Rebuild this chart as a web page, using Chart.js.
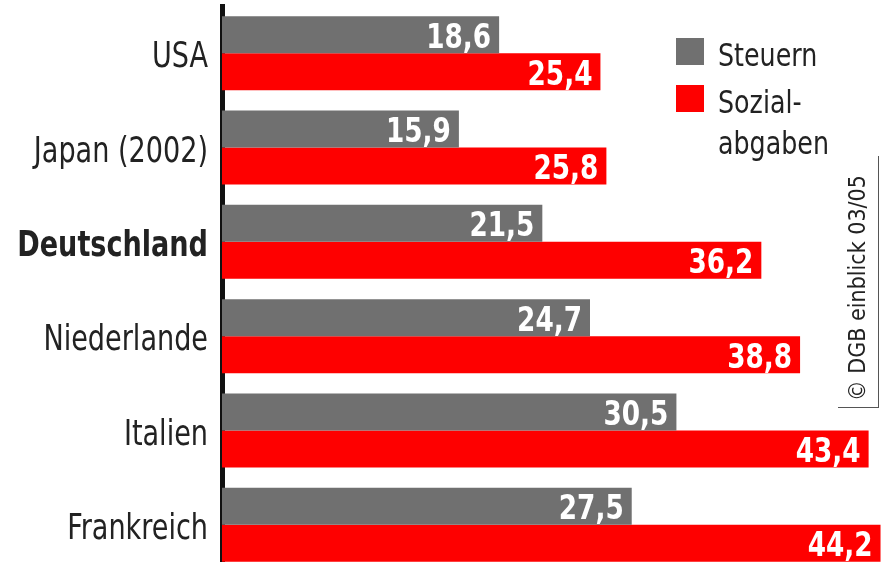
<!DOCTYPE html>
<html lang="de">
<head>
<meta charset="utf-8">
<title>Steuern und Sozialabgaben</title>
<script src="https://cdn.jsdelivr.net/npm/chart.js@4.4.1/dist/chart.umd.min.js"></script>
<style>
  html, body { margin: 0; padding: 0; background: #fff; overflow: hidden; }
  #wrap { position: relative; width: 885px; height: 562px; overflow: hidden; }
  canvas { position: absolute; left: 0; top: 0; }
  .lg { position: absolute; font-family: 'DejaVu Sans Condensed', sans-serif; font-size: 32px; color: #222;
        line-height: 1; white-space: nowrap; transform: scaleX(0.88); transform-origin: 0 0; }
  .sw { position: absolute; width: 28px; height: 27px; }
  #quelle { position: absolute; left: 857px; top: 288px; transform: translate(-50%, -50%) rotate(-90deg);
            font-family: 'DejaVu Sans Condensed', sans-serif; font-size: 23px; color: #222; white-space: nowrap; }
  #rahmen { position: absolute; left: 838px; top: 156px; width: 40px; height: 251px;
            border-right: 1.5px solid #555; border-bottom: 1.5px solid #555; }
</style>
</head>
<body>
<div id="wrap">
  <canvas id="chart" width="885" height="572"></canvas>
  <div class="sw" style="left:676px;top:38px;background:#707070"></div>
  <div class="lg" style="left:718px;top:39px">Steuern</div>
  <div class="sw" style="left:676px;top:85px;background:#fe0000"></div>
  <div class="lg" style="left:718px;top:86px">Sozial-</div>
  <div class="lg" style="left:718px;top:127px">abgaben</div>
  <div id="rahmen"></div>
  <div id="quelle">© DGB einblick 03/05</div>
</div>
<script>
// Länder und Werte (Anteile in Prozent)
const laender = ['USA', 'Japan (2002)', 'Deutschland', 'Niederlande', 'Italien', 'Frankreich'];
const steuern = [18.6, 15.9, 21.5, 24.7, 30.5, 27.5];
const sozialabgaben = [25.4, 25.8, 36.2, 38.8, 43.4, 44.2];

const schrift = "'DejaVu Sans Condensed', sans-serif";
const schmal = 0.86; // Schrift etwas zusammendrücken

// Länderbeschriftung links der Achse, an den Ticks der y-Skala
const laenderNamen = {
  id: 'laenderNamen',
  afterDraw(chart) {
    const ctx = chart.ctx;
    const y = chart.scales.y;
    ctx.save();
    ctx.fillStyle = '#222';
    ctx.textAlign = 'right';
    ctx.textBaseline = 'alphabetic';
    laender.forEach((name, i) => {
      ctx.save();
      ctx.translate(y.right - 14, y.getPixelForTick(i) + 14);
      ctx.scale(schmal, 1);
      ctx.font = (i === 2 ? 'bold ' : '') + '35px ' + schrift;
      ctx.fillText(name, 0, 0);
      ctx.restore();
    });
    ctx.restore();
  }
};

// Werte in weißer Schrift rechts in den Balken
const wertBeschriftung = {
  id: 'wertBeschriftung',
  afterDatasetsDraw(chart) {
    const ctx = chart.ctx;
    ctx.save();
    ctx.fillStyle = '#fff';
    ctx.font = 'bold 34px ' + schrift;
    ctx.textAlign = 'right';
    ctx.textBaseline = 'alphabetic';
    chart.data.datasets.forEach((ds, i) => {
      chart.getDatasetMeta(i).data.forEach((bar, j) => {
        const txt = ds.data[j].toFixed(1).replace('.', ',');
        ctx.save();
        ctx.translate(bar.x - 8, bar.y + 13);
        ctx.scale(schmal, 1);
        ctx.fillText(txt, 0, 0);
        ctx.restore();
      });
    });
    ctx.restore();
  }
};

new Chart(document.getElementById('chart'), {
  type: 'bar',
  data: {
    labels: laender,
    datasets: [{
      label: 'Steuern',
      data: steuern,
      backgroundColor: '#707070',
      barPercentage: 1.0,
      categoryPercentage: 0.785
    }, {
      label: 'Sozialabgaben',
      data: sozialabgaben,
      backgroundColor: '#fe0000',
      barPercentage: 1.0,
      categoryPercentage: 0.785
    }]
  },
  options: {
    indexAxis: 'y',
    responsive: false,
    animation: false,
    layout: { padding: { top: 6, left: 0, right: 0, bottom: 0 } },
    plugins: { legend: { display: false }, tooltip: { enabled: false } },
    scales: {
      x: { display: false, min: 0, max: 44.5 },
      y: {
        afterFit(scale) {
          scale.width = 222;
          scale.paddingTop = 0;
          scale.paddingBottom = 0;
        },
        grid: { display: false, drawTicks: false },
        border: { display: true, color: '#111', width: 5 },
        ticks: { display: false }
      }
    }
  },
  plugins: [wertBeschriftung, laenderNamen]
});
</script>
</body>
</html>
